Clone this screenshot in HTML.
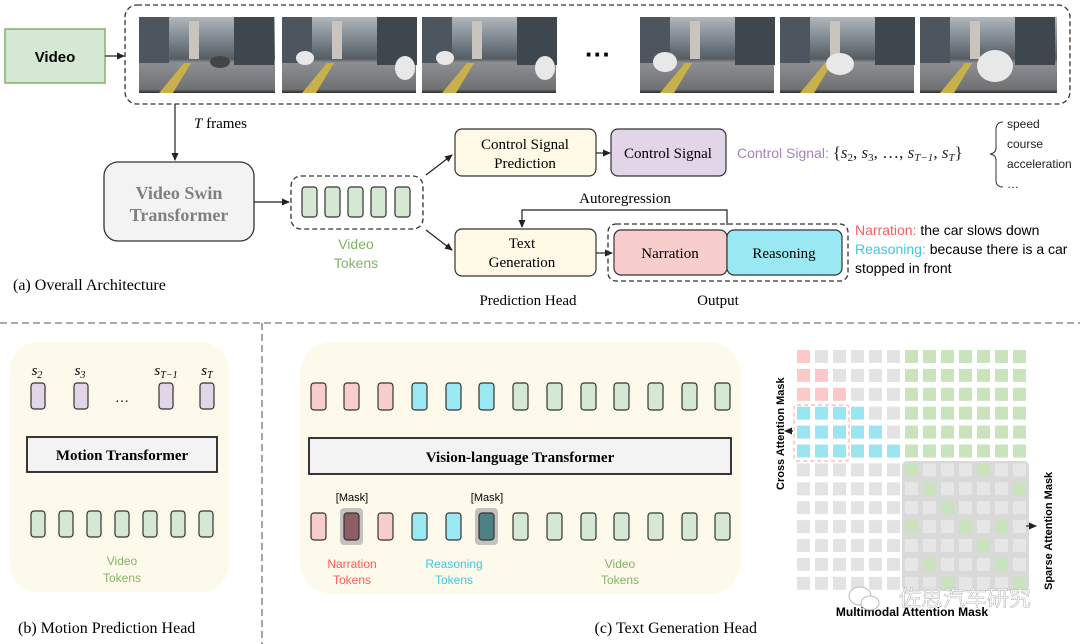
<!DOCTYPE html>
<html><head><meta charset="utf-8"><style>
html,body{margin:0;padding:0;background:#fff;}
svg{display:block;}
.s{font-family:"Liberation Serif",serif;}
.a{font-family:"Liberation Sans","DejaVu Sans",sans-serif;}
</style></head><body>
<svg width="1080" height="644" viewBox="0 0 1080 644" xmlns="http://www.w3.org/2000/svg">
<defs>
<marker id="ar" markerWidth="8" markerHeight="8" refX="7" refY="4" orient="auto" markerUnits="userSpaceOnUse"><path d="M0,0.5 L8,4 L0,7.5z" fill="#222"/></marker>
<linearGradient id="fr" x1="0" y1="0" x2="0" y2="1">
<stop offset="0" stop-color="#b0b6bc"/><stop offset="0.3" stop-color="#7d868e"/><stop offset="0.55" stop-color="#555c62"/><stop offset="0.6" stop-color="#8c8f92"/><stop offset="0.95" stop-color="#707173"/><stop offset="1" stop-color="#2b2b2b"/>
</linearGradient>
<g id="bld"><rect x="0" y="0" width="30" height="46" fill="#4d565e"/><rect x="95" y="0" width="40" height="48" fill="#3f474e"/><rect x="50" y="4" width="10" height="38" fill="#c9c4bd"/><polygon points="20,76 45,46 52,46 34,76" fill="#c8b04a"/></g>
</defs>

<!-- Top panel -->
<rect x="5" y="29" width="100" height="54" fill="#d5e8d4" stroke="#82b366" stroke-width="1.5"/>
<text x="55" y="62" class="a" font-size="15" font-weight="bold" text-anchor="middle">Video</text>
<line x1="105" y1="56" x2="124" y2="56" stroke="#222" stroke-width="1.2" marker-end="url(#ar)"/>
<rect x="125" y="5" width="945" height="99" rx="12" fill="none" stroke="#333" stroke-width="1.3" stroke-dasharray="5,3"/>
<g>
<rect x="139" y="17" width="136" height="76" fill="url(#fr)"/><use href="#bld" x="139" y="17"/>
<rect x="282" y="17" width="134" height="76" fill="url(#fr)"/><use href="#bld" x="282" y="17"/>
<rect x="422" y="17" width="134" height="76" fill="url(#fr)"/><use href="#bld" x="422" y="17"/>
<rect x="640" y="17" width="134" height="76" fill="url(#fr)"/><use href="#bld" x="640" y="17"/>
<rect x="780" y="17" width="134" height="76" fill="url(#fr)"/><use href="#bld" x="780" y="17"/>
<rect x="920" y="17" width="137" height="76" fill="url(#fr)"/><use href="#bld" x="920" y="17"/>
<g fill="#e8e8e8"><ellipse cx="220" cy="62" rx="10" ry="6" fill="#444"/><ellipse cx="305" cy="58" rx="9" ry="7"/><ellipse cx="405" cy="68" rx="10" ry="12"/><ellipse cx="445" cy="58" rx="9" ry="7"/><ellipse cx="545" cy="68" rx="10" ry="12"/><ellipse cx="665" cy="62" rx="12" ry="10"/><ellipse cx="840" cy="64" rx="14" ry="11"/><ellipse cx="995" cy="66" rx="18" ry="16"/></g>
</g>
<text x="598" y="63" font-size="26" class="a" font-weight="bold" text-anchor="middle">···</text>

<line x1="175" y1="104" x2="175" y2="160" stroke="#222" stroke-width="1.2" marker-end="url(#ar)"/>
<text x="194" y="128" class="s" font-size="15"><tspan font-style="italic">T</tspan> frames</text>

<rect x="104" y="162" width="150" height="79" rx="14" fill="#f3f3f3" stroke="#333" stroke-width="1.3"/>
<text x="179" y="199" class="s" font-size="18" font-weight="bold" fill="#808080" text-anchor="middle">Video Swin</text>
<text x="179" y="221" class="s" font-size="18" font-weight="bold" fill="#808080" text-anchor="middle">Transformer</text>
<line x1="254" y1="202" x2="289" y2="202" stroke="#222" stroke-width="1.2" marker-end="url(#ar)"/>

<rect x="291" y="176" width="132" height="53" rx="10" fill="none" stroke="#333" stroke-width="1.3" stroke-dasharray="5,3"/>
<g fill="#d5e8d4" stroke="#333" stroke-width="1.2">
<rect x="302" y="187" width="15" height="30" rx="3"/><rect x="325" y="187" width="15" height="30" rx="3"/><rect x="348" y="187" width="15" height="30" rx="3"/><rect x="371" y="187" width="15" height="30" rx="3"/><rect x="395" y="187" width="15" height="30" rx="3"/>
</g>
<text x="356" y="249" class="a" font-size="14" fill="#82b366" text-anchor="middle">Video</text>
<text x="356" y="268" class="a" font-size="14" fill="#82b366" text-anchor="middle">Tokens</text>

<line x1="426" y1="175" x2="452" y2="155" stroke="#222" stroke-width="1.2" marker-end="url(#ar)"/>
<line x1="426" y1="230" x2="452" y2="250" stroke="#222" stroke-width="1.2" marker-end="url(#ar)"/>

<rect x="455" y="129" width="141" height="47" rx="7" fill="#fff9e6" stroke="#333" stroke-width="1.2"/>
<text x="525" y="149" class="s" font-size="15" text-anchor="middle">Control Signal</text>
<text x="525" y="168" class="s" font-size="15" text-anchor="middle">Prediction</text>
<line x1="596" y1="153" x2="610" y2="153" stroke="#222" stroke-width="1.2" marker-end="url(#ar)"/>
<rect x="611" y="129" width="115" height="47" rx="7" fill="#e1d5e7" stroke="#333" stroke-width="1.2"/>
<text x="668" y="158" class="s" font-size="15" text-anchor="middle">Control Signal</text>
<text x="737" y="158" class="a" font-size="14"><tspan fill="#a680b8">Control Signal: </tspan><tspan class="s" font-size="17" fill="#222">{<tspan font-style="italic">s</tspan><tspan font-size="11" dy="3">2</tspan><tspan dy="-3">, </tspan><tspan font-style="italic">s</tspan><tspan font-size="11" dy="3">3</tspan><tspan dy="-3">, …, </tspan><tspan font-style="italic">s</tspan><tspan font-size="11" dy="3" font-style="italic">T−1</tspan><tspan dy="-3">, </tspan><tspan font-style="italic">s</tspan><tspan font-size="11" dy="3" font-style="italic">T</tspan><tspan dy="-3">}</tspan></tspan></text>
<path d="M1003,122 Q996,122 996,130 L996,148 Q996,153 990,154 Q996,155 996,160 L996,180 Q996,187 1003,187" fill="none" stroke="#333" stroke-width="1"/>
<g class="a" font-size="12" fill="#222"><text x="1007" y="128">speed</text><text x="1007" y="148">course</text><text x="1007" y="168">acceleration</text><text x="1007" y="188">…</text></g>

<text x="625" y="203" class="s" font-size="15" text-anchor="middle">Autoregression</text>
<path d="M727,225 L727,210 L522,210 L522,227" fill="none" stroke="#222" stroke-width="1.2" marker-end="url(#ar)"/>
<rect x="455" y="229" width="141" height="47" rx="7" fill="#fff9e6" stroke="#333" stroke-width="1.2"/>
<text x="522" y="248" class="s" font-size="15" text-anchor="middle">Text</text>
<text x="522" y="267" class="s" font-size="15" text-anchor="middle">Generation</text>
<line x1="596" y1="253" x2="612" y2="253" stroke="#222" stroke-width="1.2" marker-end="url(#ar)"/>
<rect x="608" y="224" width="240" height="57" rx="8" fill="none" stroke="#333" stroke-width="1.3" stroke-dasharray="5,3"/>
<rect x="614" y="230" width="113" height="45" rx="7" fill="#f8cecc" stroke="#333" stroke-width="1.2"/>
<rect x="727" y="230" width="115" height="45" rx="7" fill="#99e8f2" stroke="#333" stroke-width="1.2"/>
<text x="670" y="258" class="s" font-size="15" text-anchor="middle">Narration</text>
<text x="784" y="258" class="s" font-size="15" text-anchor="middle">Reasoning</text>
<g class="a" font-size="14"><text x="855" y="235"><tspan fill="#ff5a5a">Narration:</tspan>  the car slows down</text>
<text x="855" y="254"><tspan fill="#3cc8e0">Reasoning:</tspan> because there is a car</text>
<text x="855" y="273">stopped in front</text></g>
<text x="528" y="305" class="s" font-size="15" text-anchor="middle">Prediction Head</text>
<text x="718" y="305" class="s" font-size="15" text-anchor="middle">Output</text>
<text x="13" y="290" class="s" font-size="16">(a) Overall Architecture</text>

<!-- dividers -->
<line x1="0" y1="323" x2="1080" y2="323" stroke="#777" stroke-width="1.3" stroke-dasharray="7,4"/>
<line x1="262" y1="323" x2="262" y2="644" stroke="#777" stroke-width="1.3" stroke-dasharray="7,4"/>

<!-- panel b -->
<rect x="10" y="342" width="219" height="250" rx="28" fill="#fefaeb"/>
<g class="s" font-size="15" font-style="italic" text-anchor="middle"><text x="37" y="375">s<tspan font-size="10" dy="3">2</tspan></text><text x="80" y="375">s<tspan font-size="10" dy="3">3</tspan></text><text x="166" y="375">s<tspan font-size="10" dy="3">T−1</tspan></text><text x="207" y="375">s<tspan font-size="10" dy="3">T</tspan></text></g>
<g fill="#e1d5e7" stroke="#333" stroke-width="1.2"><rect x="31" y="383" width="14" height="26" rx="3"/><rect x="74" y="383" width="14" height="26" rx="3"/><rect x="159" y="383" width="14" height="26" rx="3"/><rect x="200" y="383" width="14" height="26" rx="3"/></g>
<text x="122" y="402" class="s" font-size="14" text-anchor="middle">…</text>
<rect x="27" y="437" width="190" height="35" fill="#f3f3f3" stroke="#222" stroke-width="1.8"/>
<text x="122" y="460" class="s" font-size="15" font-weight="bold" text-anchor="middle">Motion Transformer</text>
<g fill="#d5e8d4" stroke="#333" stroke-width="1.2"><rect x="31" y="511" width="14" height="26" rx="3"/><rect x="59" y="511" width="14" height="26" rx="3"/><rect x="87" y="511" width="14" height="26" rx="3"/><rect x="115" y="511" width="14" height="26" rx="3"/><rect x="143" y="511" width="14" height="26" rx="3"/><rect x="171" y="511" width="14" height="26" rx="3"/><rect x="199" y="511" width="14" height="26" rx="3"/></g>
<text x="122" y="565" class="a" font-size="12" fill="#82b366" text-anchor="middle">Video</text>
<text x="122" y="582" class="a" font-size="12" fill="#82b366" text-anchor="middle">Tokens</text>
<text x="18" y="633" class="s" font-size="16">(b) Motion Prediction Head</text>

<!-- panel c -->
<rect x="300" y="342" width="441" height="252" rx="32" fill="#fefaeb"/>
<g stroke="#333" stroke-width="1.2">
<rect x="311" y="383" width="15" height="27" rx="3" fill="#f8cecc"/><rect x="344" y="383" width="15" height="27" rx="3" fill="#f8cecc"/><rect x="378" y="383" width="15" height="27" rx="3" fill="#f8cecc"/>
<rect x="412" y="383" width="15" height="27" rx="3" fill="#99e8f2"/><rect x="446" y="383" width="15" height="27" rx="3" fill="#99e8f2"/><rect x="479" y="383" width="15" height="27" rx="3" fill="#99e8f2"/>
<rect x="513" y="383" width="15" height="27" rx="3" fill="#d5e8d4"/><rect x="547" y="383" width="15" height="27" rx="3" fill="#d5e8d4"/><rect x="581" y="383" width="15" height="27" rx="3" fill="#d5e8d4"/><rect x="614" y="383" width="15" height="27" rx="3" fill="#d5e8d4"/><rect x="648" y="383" width="15" height="27" rx="3" fill="#d5e8d4"/><rect x="682" y="383" width="15" height="27" rx="3" fill="#d5e8d4"/><rect x="715" y="383" width="15" height="27" rx="3" fill="#d5e8d4"/>
</g>
<rect x="309" y="438" width="422" height="36" fill="#f3f3f3" stroke="#222" stroke-width="1.8"/>
<text x="520" y="462" class="s" font-size="15" font-weight="bold" text-anchor="middle">Vision-language Transformer</text>
<g class="a" font-size="11" text-anchor="middle"><text x="352" y="501">[Mask]</text><text x="487" y="501">[Mask]</text></g>
<rect x="340" y="508" width="23" height="37" rx="4" fill="#aaa" opacity="0.7"/>
<rect x="475" y="508" width="23" height="37" rx="4" fill="#aaa" opacity="0.7"/>
<g stroke="#333" stroke-width="1.2">
<rect x="311" y="513" width="15" height="27" rx="3" fill="#f8cecc"/><rect x="344" y="513" width="15" height="27" rx="3" fill="#8e5f62"/><rect x="378" y="513" width="15" height="27" rx="3" fill="#f8cecc"/>
<rect x="412" y="513" width="15" height="27" rx="3" fill="#99e8f2"/><rect x="446" y="513" width="15" height="27" rx="3" fill="#99e8f2"/><rect x="479" y="513" width="15" height="27" rx="3" fill="#4f8086"/>
<rect x="513" y="513" width="15" height="27" rx="3" fill="#d5e8d4"/><rect x="547" y="513" width="15" height="27" rx="3" fill="#d5e8d4"/><rect x="581" y="513" width="15" height="27" rx="3" fill="#d5e8d4"/><rect x="614" y="513" width="15" height="27" rx="3" fill="#d5e8d4"/><rect x="648" y="513" width="15" height="27" rx="3" fill="#d5e8d4"/><rect x="682" y="513" width="15" height="27" rx="3" fill="#d5e8d4"/><rect x="715" y="513" width="15" height="27" rx="3" fill="#d5e8d4"/>
</g>
<g class="a" font-size="12" text-anchor="middle">
<text x="352" y="568" fill="#ff5a5a">Narration</text><text x="352" y="584" fill="#ff5a5a">Tokens</text>
<text x="454" y="568" fill="#3cc8e0">Reasoning</text><text x="454" y="584" fill="#3cc8e0">Tokens</text>
<text x="620" y="568" fill="#82b366">Video</text><text x="620" y="584" fill="#82b366">Tokens</text></g>
<text x="757" y="633" class="s" font-size="16" text-anchor="end">(c) Text Generation Head</text>

<!-- attention mask grid -->
<rect x="902" y="461" width="127" height="130" rx="5" fill="#d9d9d9"/>
<g id="grid"></g>
<rect x="794" y="405" width="55" height="56" rx="3" fill="none" stroke="#f4b4b4" stroke-width="1.2" stroke-dasharray="4,3"/>
<line x1="793" y1="431" x2="785" y2="431" stroke="#222" stroke-width="1.2" marker-end="url(#ar)"/>
<line x1="1026" y1="526" x2="1036" y2="526" stroke="#222" stroke-width="1.2" marker-end="url(#ar)"/>
<text transform="translate(784,490) rotate(-90)" class="a" font-size="11" font-weight="bold">Cross Attention Mask</text>
<text transform="translate(1052,590) rotate(-90)" class="a" font-size="11" font-weight="bold">Sparse Attention Mask</text>
<text x="912" y="616" class="a" font-size="12" font-weight="bold" text-anchor="middle">Multimodal Attention Mask</text>
<text x="965" y="606" class="a" font-size="22" fill="#fff" stroke="#bbb" stroke-width="0.6" text-anchor="middle" style="font-family:'Liberation Sans','Noto Sans CJK SC',sans-serif">佐思汽车研究</text>
<g fill="#fff" stroke="#bbb" stroke-width="1"><ellipse cx="860" cy="596" rx="11" ry="9"/><ellipse cx="870" cy="603" rx="9" ry="7"/></g>
</svg>
<script>
(function(){
var ns="http://www.w3.org/2000/svg",g=document.getElementById("grid");
var sp={6:[0,4],7:[1,6],8:[2],9:[0,3,5],10:[4],11:[1,5],12:[2,6]};
for(var r=0;r<13;r++)for(var c=0;c<13;c++){
 var col="#e3e3e3";
 if(r<3){ if(c<=r)col="#fcc8c8"; else if(c>=6)col="#c9e3bc";}
 else if(r<6){ if(c<=r)col="#99e6f0"; else if(c>=6)col="#c9e3bc";}
 else { if(c>=6){ col=(sp[r].indexOf(c-6)>=0)?"#c9e3bc":"#e6e6e6"; } }
 var e=document.createElementNS(ns,"rect");
 e.setAttribute("x",797+18*c);e.setAttribute("y",350+18.9*r);
 e.setAttribute("width",13);e.setAttribute("height",13);e.setAttribute("fill",col);
 g.appendChild(e);
}})();
</script>
</body></html>
